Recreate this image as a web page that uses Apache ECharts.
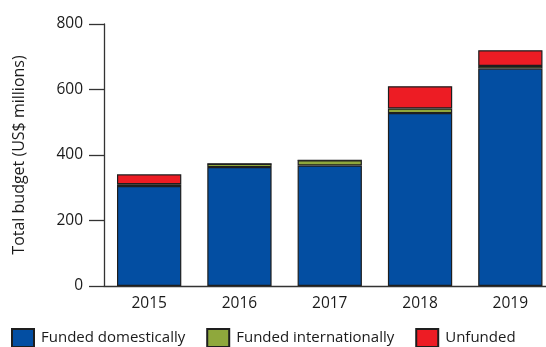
<!DOCTYPE html>
<html>
<head>
<meta charset="utf-8">
<script src="https://cdn.jsdelivr.net/npm/echarts@6/dist/echarts.min.js"></script>
<style>
html,body{margin:0;padding:0;background:#fff;}
#chart{width:546px;height:347px;}
</style>
</head>
<body>
<div id="chart"></div>
<script>
const categories = ['2015', '2016', '2017', '2018', '2019'];
const fundedDomestically = [305, 363, 368, 528, 664];
const fundedInternationally = [6, 10, 16, 14, 8];
const unfunded = [30, 0, 0, 68, 48];
const yTicks = [0, 200, 400, 600, 800];

const FONT = '"Open Sans", "DejaVu Sans", sans-serif';
const chart = echarts.init(document.getElementById('chart'));
const border = { borderColor: '#1e1e1e', borderWidth: 1.2 };

chart.setOption({
  animation: false,
  textStyle: { fontFamily: FONT, color: '#1a1a1a' },
  grid: { left: 104, top: 24, bottom: 61, width: 451.5, containLabel: false, outerBoundsMode: 'none' },
  legend: {
    top: 328,
    left: 11,
    padding: 0,
    itemWidth: 22,
    itemHeight: 18,
    itemGap: 21,
    icon: 'rect',
    textStyle: { fontSize: 15, fontFamily: FONT, color: '#1a1a1a', padding: [0, 0, 0, 2] },
    data: ['Funded domestically', 'Funded internationally', 'Unfunded']
  },
  xAxis: {
    type: 'category',
    data: categories,
    axisLine: { lineStyle: { color: '#333', width: 1.3 } },
    axisTick: { show: false },
    axisLabel: { fontSize: 15.5, color: '#1a1a1a', margin: 10, fontFamily: FONT }
  },
  yAxis: {
    type: 'value',
    min: yTicks[0],
    max: yTicks[yTicks.length - 1],
    interval: 200,
    name: 'Total budget (US$ millions)',
    nameLocation: 'middle',
    nameGap: 77,
    nameTextStyle: { fontSize: 16, color: '#1a1a1a', fontFamily: FONT },
    axisLine: { show: true, lineStyle: { color: '#333', width: 1.3 } },
    axisTick: { show: true, length: 15, lineStyle: { color: '#333', width: 1.3 } },
    splitLine: { show: false },
    axisLabel: { fontSize: 15.5, color: '#1a1a1a', margin: 21, fontFamily: FONT }
  },
  series: [
    {
      name: 'Funded domestically', type: 'bar', stack: 'total',
      barCategoryGap: '28.8%',
      data: fundedDomestically,
      itemStyle: Object.assign({ color: '#034ea2' }, border)
    },
    {
      name: 'Funded internationally', type: 'bar', stack: 'total',
      data: fundedInternationally,
      itemStyle: Object.assign({ color: '#8fa83c' }, border)
    },
    {
      name: 'Unfunded', type: 'bar', stack: 'total',
      data: unfunded,
      itemStyle: Object.assign({ color: '#ed1c24' }, border)
    }
  ]
});
</script>
</body>
</html>
